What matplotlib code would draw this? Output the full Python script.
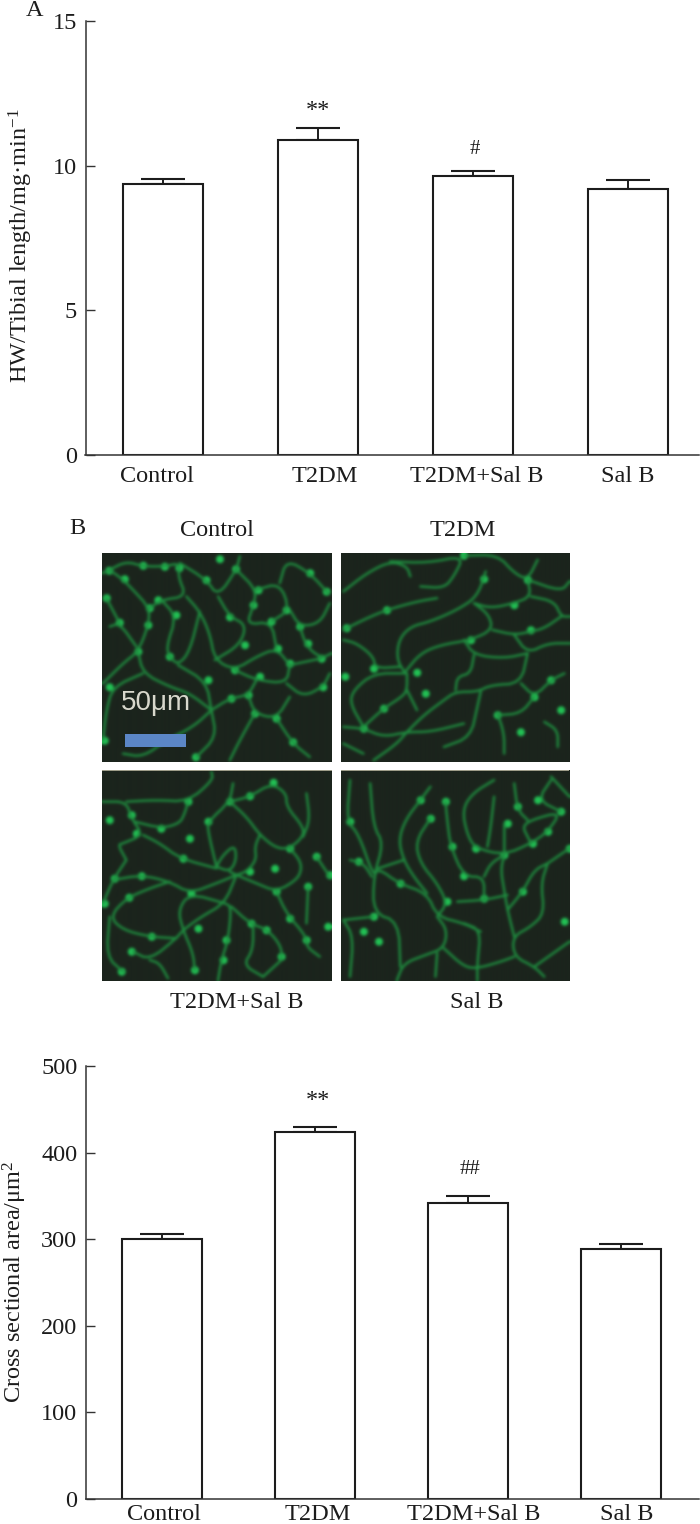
# plot.py - bar charts and traced micrographs (heart weight / cross sectional area)
import numpy as np
import matplotlib
matplotlib.use("Agg")
import matplotlib.pyplot as plt

plt.rcParams["font.family"] = ["Liberation Serif", "DejaVu Serif"]
plt.rcParams["mathtext.default"] = "regular"

W, H = 700, 1524
FS = 17.5
INK = "#1c1c1c"

groups = ["Control", "T2DM", "T2DM+Sal B", "Sal B"]

# panel A
hw_values = [9.37, 10.89, 9.66, 9.19]
hw_errors = [0.16, 0.41, 0.14, 0.31]
hw_ticks = [0, 5, 10, 15]

# lower chart
csa_values = [300, 424, 342, 289]
csa_errors = [6, 6, 8, 6]
csa_ticks = [0, 100, 200, 300, 400, 500]

# micrographs (3x crop coordinates)
walls_control = [
    [(40, 100), (60, 90), (100, 120), (130, 150), (180, 205), (175, 260), (145, 335), (100, 370), (40, 430)],
    [(60, 90), (110, 65), (160, 80), (225, 80), (270, 70), (265, 110), (290, 170), (215, 180), (180, 205)],
    [(270, 70), (350, 120), (385, 170), (440, 90), (450, 50)],
    [(290, 170), (330, 215), (360, 280), (375, 360), (435, 390), (500, 350), (560, 325), (600, 375)],
    [(385, 170), (420, 230), (470, 255), (450, 315), (375, 360)],
    [(440, 90), (500, 150), (490, 200), (470, 255), (545, 245), (560, 325)],
    [(500, 150), (570, 130), (600, 210), (545, 245)],
    [(570, 130), (590, 60), (660, 100), (715, 160)],
    [(600, 210), (630, 260), (690, 250), (720, 190)],
    [(630, 260), (650, 320), (695, 355), (725, 340)],
    [(600, 375), (695, 355)],
    [(600, 375), (590, 430), (500, 420), (435, 390)],
    [(590, 430), (640, 470), (700, 440), (720, 400)],
    [(500, 420), (475, 465), (420, 475), (365, 510)],
    [(475, 465), (495, 520), (560, 535), (600, 470)],
    [(560, 535), (610, 610), (660, 650)],
    [(495, 520), (450, 600), (420, 660)],
    [(365, 510), (300, 460), (240, 440), (160, 400), (145, 335)],
    [(240, 350), (230, 320), (260, 230), (215, 180)],
    [(240, 350), (265, 375), (300, 335), (330, 215)],
    [(265, 375), (350, 425), (365, 510)],
    [(160, 400), (70, 440), (50, 510), (40, 600)],
    [(365, 510), (380, 590), (320, 650)],
    [(100, 640), (160, 650), (230, 600), (310, 560), (365, 510)],
    [(60, 260), (90, 250), (140, 320)],
    [(50, 175), (90, 250)],
]
spots_control = [
    (58, 92), (105, 118), (160, 78), (225, 80), (268, 85), (390, 58), (438, 88), (660, 100),
    (710, 155), (505, 150), (490, 195), (180, 205), (175, 255), (90, 248), (145, 335), (50, 175),
    (205, 180), (260, 225), (350, 120), (420, 232), (545, 245), (630, 260), (465, 315), (565, 325),
    (435, 390), (355, 420), (695, 355), (510, 410), (475, 465), (495, 520), (560, 535), (425, 475),
    (610, 605), (318, 650), (240, 350), (60, 440), (600, 370), (45, 600), (700, 440), (655, 310),
    (590, 210),
]

walls_t2dm = [
    [(40, 155), (110, 100), (180, 65), (230, 80), (240, 110)],
    [(180, 65), (290, 70), (400, 48), (370, 110), (340, 145), (270, 140)],
    [(400, 48), (500, 45), (550, 100), (590, 120), (620, 60)],
    [(590, 120), (690, 155), (715, 125)],
    [(590, 120), (600, 170), (550, 190), (480, 205), (430, 190)],
    [(465, 95), (440, 170), (380, 210), (300, 245), (240, 260), (205, 300), (200, 360), (225, 400)],
    [(40, 270), (110, 235), (170, 210), (260, 185), (320, 175)],
    [(430, 190), (475, 225), (485, 270), (420, 300), (330, 315), (270, 340), (225, 395)],
    [(600, 170), (670, 185), (690, 230), (715, 230)],
    [(690, 230), (640, 265), (600, 275), (550, 285), (485, 270)],
    [(550, 285), (590, 340), (650, 310), (715, 310)],
    [(590, 340), (520, 355), (430, 345), (400, 300)],
    [(430, 345), (420, 400), (380, 410), (375, 450)],
    [(590, 340), (570, 430), (480, 435), (440, 455), (375, 455), (340, 480), (280, 525), (230, 575)],
    [(570, 430), (610, 470), (660, 420), (700, 400)],
    [(40, 560), (100, 565), (160, 590), (230, 575), (300, 575), (400, 550)],
    [(230, 575), (200, 610), (130, 660)],
    [(230, 400), (230, 450), (215, 470), (160, 505), (100, 560)],
    [(230, 450), (260, 510)],
    [(40, 300), (80, 310), (130, 350), (135, 385), (210, 380)],
    [(225, 400), (130, 400), (70, 450), (60, 490), (100, 560)],
    [(450, 455), (440, 500), (420, 590), (340, 620)],
    [(500, 520), (520, 580), (520, 640)],
    [(500, 525), (570, 520), (610, 470)],
    [(640, 545), (680, 570), (680, 620)],
    [(40, 610), (100, 640)],
]
spots_t2dm = [
    (100, 565), (260, 398), (420, 300), (460, 118), (130, 385), (160, 505), (285, 460), (500, 525),
    (570, 575), (690, 510), (660, 420), (610, 470), (590, 120), (550, 195), (600, 270), (45, 410),
    (50, 265), (170, 210), (400, 48),
]

walls_combo = [
    [(380, 320), (400, 285), (435, 255), (440, 300), (420, 335), (380, 320)],
    [(40, 125), (110, 125), (125, 175), (160, 225), (100, 250), (85, 255), (110, 300)],
    [(110, 125), (200, 120), (295, 125), (370, 60), (365, 35)],
    [(295, 125), (285, 160), (270, 190), (215, 205), (135, 185)],
    [(160, 225), (210, 250), (270, 295), (380, 325)],
    [(380, 320), (355, 215), (355, 185), (420, 125), (430, 70)],
    [(420, 125), (480, 110), (545, 70), (590, 100), (590, 140), (640, 200), (640, 230), (600, 265),
     (560, 265), (510, 225), (470, 170), (420, 125)],
    [(640, 230), (660, 180), (650, 100)],
    [(600, 265), (630, 300), (635, 330), (620, 360), (560, 395), (500, 370), (440, 345), (420, 335)],
    [(440, 345), (470, 335), (500, 300), (495, 260), (510, 225)],
    [(40, 430), (70, 360), (110, 300)],
    [(70, 360), (155, 345), (240, 365), (300, 400), (380, 370), (440, 345)],
    [(440, 345), (405, 430), (335, 470), (280, 510), (260, 535), (180, 600), (130, 575)],
    [(405, 430), (425, 440), (415, 540), (395, 600), (385, 660)],
    [(425, 440), (480, 490), (535, 510), (575, 560), (575, 600)],
    [(405, 430), (300, 400), (265, 450), (280, 510), (310, 580), (315, 630)],
    [(560, 395), (590, 460), (650, 530), (650, 560), (690, 590)],
    [(655, 380), (650, 490)],
    [(240, 365), (180, 385), (110, 415), (60, 470), (100, 510), (180, 530), (260, 535)],
    [(60, 470), (50, 590), (100, 635)],
    [(180, 600), (210, 610), (235, 655)],
    [(575, 600), (520, 650)],
    [(490, 490), (490, 570), (460, 615), (520, 650)],
    [(720, 350), (680, 290)],
]
spots_combo = [
    (550, 68), (295, 125), (125, 165), (215, 205), (140, 220), (60, 180), (355, 185), (300, 235),
    (420, 125), (480, 108), (280, 295), (600, 265), (410, 540), (480, 335), (555, 325), (655, 380),
    (75, 355), (155, 348), (305, 400), (560, 395), (118, 412), (485, 490), (530, 510), (325, 505),
    (185, 530), (125, 575), (400, 600), (575, 590), (650, 540), (600, 475), (95, 635), (315, 630),
    (45, 430), (680, 290), (720, 345), (715, 500),
]

walls_salb = [
    [(60, 60), (50, 185), (85, 220), (130, 350), (145, 325), (205, 370), (290, 400), (320, 470), (400, 490), (450, 515)],
    [(120, 70), (130, 200), (160, 250), (130, 350), (130, 460), (205, 485), (210, 620)],
    [(300, 80), (270, 120), (225, 180), (205, 240), (220, 300), (250, 350), (290, 400)],
    [(145, 325), (220, 300)],
    [(300, 175), (255, 245), (270, 310), (320, 370), (350, 430), (320, 470)],
    [(345, 125), (350, 180), (360, 260), (400, 350), (460, 350), (460, 420)],
    [(490, 60), (425, 100), (395, 150), (410, 225), (435, 265), (520, 285), (600, 250), (650, 215),
     (690, 155), (600, 180), (575, 200), (590, 230), (600, 250)],
    [(490, 110), (480, 200), (470, 260)],
    [(520, 285), (480, 310), (460, 350)],
    [(520, 285), (510, 330), (520, 390), (530, 450), (550, 530)],
    [(520, 190), (520, 285)],
    [(550, 70), (560, 150), (590, 180)],
    [(660, 60), (620, 120), (690, 155)],
    [(660, 50), (715, 110)],
    [(650, 310), (610, 330), (575, 395), (530, 450)],
    [(650, 310), (630, 370), (640, 460), (600, 500), (545, 530), (550, 590), (610, 620), (640, 650)],
    [(715, 265), (650, 310)],
    [(40, 480), (70, 530), (60, 650)],
    [(130, 470), (40, 480)],
    [(60, 300), (100, 310), (125, 350)],
    [(400, 490), (450, 510), (440, 610), (440, 660)],
    [(320, 470), (350, 510), (340, 565), (285, 585), (220, 610), (200, 660)],
    [(340, 565), (400, 620), (440, 625), (510, 605), (550, 590)],
    [(380, 425), (460, 420), (530, 405)],
    [(320, 580), (315, 650)],
    [(610, 620), (715, 545)],
]
spots_salb = [
    (60, 185), (130, 470), (85, 305), (400, 348), (345, 125), (270, 120), (300, 175), (435, 265),
    (365, 260), (520, 285), (605, 250), (650, 215), (460, 415), (575, 395), (700, 485), (715, 265),
    (690, 155), (530, 190), (145, 545), (620, 120), (560, 140), (210, 370), (350, 425), (100, 515),
]


def px_axes(fig, left, top, right, bottom):
    return fig.add_axes([left / W, 1 - bottom / H, (right - left) / W, (bottom - top) / H])


def label(fig, x, y, s, **kw):
    kw.setdefault("fontsize", FS)
    kw.setdefault("color", INK)
    fig.text(x / W, 1 - y / H, s, ha="center", va="center", **kw)


def blur(img, sigma):
    r = int(3 * sigma)
    k = np.exp(-0.5 * (np.arange(-r, r + 1) / sigma) ** 2)
    k = k / k.sum()
    pad = np.pad(img, ((r, r), (r, r), (0, 0)), mode="edge")
    out = np.apply_along_axis(lambda a: np.convolve(a, k, mode="valid"), 0, pad)
    out = np.apply_along_axis(lambda a: np.convolve(a, k, mode="valid"), 1, out)
    return out


def soften(points, rounds=2):
    # corner cutting, the traced walls are curved in the original
    p = np.array(points, dtype=float)
    for _ in range(rounds):
        q = 0.75 * p[:-1] + 0.25 * p[1:]
        r = 0.25 * p[:-1] + 0.75 * p[1:]
        mid = np.empty((q.shape[0] * 2, 2))
        mid[0::2] = q
        mid[1::2] = r
        p = np.vstack([p[0], mid, p[-1]])
    return p


def render_micrograph(walls, spots, extent, size):
    # draw the network off screen, then soften it like the low-res original
    x0, x1, y0, y1 = extent
    bg = "#1b241c"
    f = plt.figure(figsize=(size[0] * 2 / 100, size[1] * 2 / 100), dpi=100)
    a = f.add_axes([0, 0, 1, 1])
    a.set_facecolor(bg)
    for w in walls:
        p = soften(w)
        a.plot(p[:, 0], p[:, 1], color="#1f8f40", lw=3.4, solid_capstyle="round")
    xs, ys = zip(*spots)
    a.scatter(xs, ys, s=130, color="#22c455", linewidths=0)
    a.set_xlim(x0, x1)
    a.set_ylim(y1, y0)
    a.axis("off")
    f.patch.set_facecolor(bg)
    f.canvas.draw()
    img = np.asarray(f.canvas.buffer_rgba())[:, :, :3] / 255.0
    plt.close(f)
    return blur(img, 2.8)


def draw_micrograph(fig, box, walls, spots, extent, edge=False):
    ax = px_axes(fig, *box)
    img = render_micrograph(walls, spots, extent, (box[2] - box[0], box[3] - box[1]))
    ax.imshow(img, aspect="auto", extent=(extent[0], extent[1], extent[3], extent[2]), interpolation="bilinear")
    if edge:
        ax.axhline(extent[2] + 1, color="#b9b6a0", lw=1.2)
    ax.set_xlim(extent[0], extent[1])
    ax.set_ylim(extent[3], extent[2])
    ax.axis("off")
    return ax


def bar_chart(fig, box, values, errors, ticks, centers, bar_px):
    ax = px_axes(fig, *box)
    step = centers[1] - centers[0]
    x = np.arange(len(values))
    ax.bar(x, values, width=bar_px / step, facecolor="white", edgecolor=INK, linewidth=1.5, zorder=2)
    ax.errorbar(x, values, yerr=[np.zeros(len(errors)), errors], fmt="none", ecolor=INK,
                elinewidth=1.4, capsize=15.8, capthick=1.5, zorder=1)
    ax.set_xlim((box[0] - centers[0]) / step, (box[2] - centers[0]) / step)
    ax.set_ylim(ticks[0], ticks[-1])
    ax.set_yticks(ticks)
    ax.set_xticks([])
    ax.tick_params(axis="y", direction="in", length=6.5, width=1.0, color="#333333",
                   pad=6, labelsize=FS, labelcolor=INK)
    for s in ["top", "right"]:
        ax.spines[s].set_visible(False)
    for s in ["left", "bottom"]:
        ax.spines[s].set_linewidth(1.1)
        ax.spines[s].set_color("#333333")
    return ax


def main():
    fig = plt.figure(figsize=(W / 100, H / 100), dpi=100, facecolor="white")

    # panel A
    bar_chart(fig, (85.5, 21, 699, 455), hw_values, hw_errors, hw_ticks, [163.3, 318.3, 473.3, 628.3], 80)
    label(fig, 34.5, 11, "A")
    label(fig, 21, 246, "HW/Tibial length/mg·min$^{-1}$", rotation=90)
    label(fig, 318, 111, "**")
    label(fig, 475, 150, "#", fontsize=15)
    for name, xc in zip(groups, [157, 325, 477, 628]):
        label(fig, xc, 476, name)

    # panel B, micrographs
    label(fig, 77, 528, "B")
    label(fig, 217, 530, groups[0])
    label(fig, 463, 530, groups[1])
    label(fig, 237, 1002, groups[2])
    label(fig, 477, 1002, groups[3])

    ax = draw_micrograph(fig, (102, 553, 332, 762), walls_control, spots_control, (37, 728, 40, 665))
    draw_micrograph(fig, (341, 553, 569, 762), walls_t2dm, spots_t2dm, (33, 718, 40, 665))
    draw_micrograph(fig, (102, 770, 332, 981), walls_combo, spots_combo, (37, 728, 30, 663), edge=True)
    draw_micrograph(fig, (341, 770, 569, 981), walls_salb, spots_salb, (33, 718, 30, 663), edge=True)
    ax.add_patch(plt.Rectangle((105, 582), 185, 38, facecolor="#5b86c6", edgecolor="none", zorder=5))
    ax.text(200, 490, "50μm", color="#d8d8cc", fontsize=20, ha="center", va="center",
            family=["Liberation Sans", "DejaVu Sans"], zorder=5)

    # lower chart
    bar_chart(fig, (85.7, 1066, 699, 1499), csa_values, csa_errors, csa_ticks, [162, 315, 468, 621], 80)
    label(fig, 15, 1282, "Cross sectional area/μm$^{2}$", rotation=90)
    label(fig, 318, 1101, "**")
    label(fig, 470, 1169, "##", fontsize=15)
    for name, xc in zip(groups, [164, 318, 474, 627]):
        label(fig, xc, 1514, name)

    fig.savefig("out.png", dpi=100)
    plt.close(fig)


if __name__ == "__main__":
    main()
